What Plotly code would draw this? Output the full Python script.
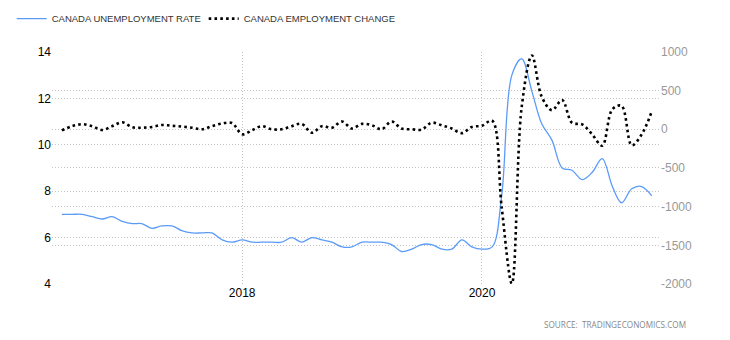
import pandas as pd
import plotly.graph_objects as go

dates = pd.date_range("2016-07-01", "2021-06-01", freq="MS")

unemployment_rate = [
    7.0, 7.0, 7.0, 6.9, 6.8, 6.9,                                # 2016 Jul-Dec
    6.7, 6.6, 6.6, 6.4, 6.5, 6.5, 6.3, 6.2, 6.2, 6.2, 5.9, 5.8,  # 2017
    5.9, 5.8, 5.8, 5.8, 5.8, 6.0, 5.8, 6.0, 5.9, 5.8, 5.6, 5.6,  # 2018
    5.8, 5.8, 5.8, 5.7, 5.4, 5.5, 5.7, 5.7, 5.5, 5.5, 5.9, 5.6,  # 2019
    5.5, 5.6, 7.8, 13.0, 13.7, 12.3, 10.9, 10.2, 9.0, 8.9, 8.5, 8.8,  # 2020
    9.4, 8.2, 7.5, 8.1, 8.2, 7.8,                                # 2021 Jan-Jun
]

employment_change = [
    -15, 40, 65, 40, -10, 40,                                     # 2016 Jul-Dec
    90, 25, 20, 30, 55, 45, 35, 20, 0, 40, 75, 80,                # 2017
    -65, -10, 40, 0, 0, 40, 70, -45, 40, 20, 100, 10,             # 2018
    70, 50, 0, 100, 10, 0, -5, 85, 50, 10, -50, 30,               # 2019
    45, 110, -1010, -1994, 290, 953, 419, 246, 378, 84, 62, -63,  # 2020
    -213, 259, 303, -207, -68, 231,                               # 2021 Jan-Jun
]

left_ticks = [4, 6, 8, 10, 12, 14]
right_ticks = [-2000, -1500, -1000, -500, 0, 500, 1000]
right_tick_labels = [str(v) for v in right_ticks]

fig = go.Figure()
fig.add_trace(go.Scatter(
    x=dates, y=unemployment_rate, name="CANADA UNEMPLOYMENT RATE",
    mode="lines", line=dict(color="#5b9bf8", width=1.3, shape="spline", smoothing=1),
    yaxis="y",
))
fig.add_trace(go.Scatter(
    x=dates, y=employment_change, name="CANADA EMPLOYMENT CHANGE",
    mode="lines", line=dict(color="#000000", width=2.6, dash="2.6px,3.2px", shape="spline", smoothing=1),
    yaxis="y2",
))

grid = dict(showgrid=True, gridcolor="#c4c4c4", griddash="1px,2px", gridwidth=1, zeroline=False)

fig.update_layout(
    width=730, height=340,
    margin=dict(l=52, r=70, t=49, b=56),
    paper_bgcolor="white", plot_bgcolor="white",
    font=dict(family="Liberation Sans, Arial, sans-serif", color="#000"),
    showlegend=True,
    legend=dict(orientation="h", xref="container", yref="container",
                x=0.016, y=0.988, xanchor="left", yanchor="top",
                font=dict(size=9.5, color="#333"),
                entrywidth=147, entrywidthmode="pixels",
                itemwidth=30, tracegroupgap=0, bgcolor="rgba(0,0,0,0)"),
    xaxis=dict(range=["2016-06-01", "2021-06-26"], dtick="M24", tick0="2018-01-01",
               tickformat="%Y", ticks="", showline=False, tickfont=dict(size=12, color="#000"),
               **grid),
    yaxis=dict(range=[4, 14], tickvals=left_ticks, ticks="", showline=False,
               tickfont=dict(size=12, color="#000"), **grid),
    yaxis2=dict(range=[-2000, 1000], tickvals=right_ticks, ticktext=right_tick_labels,
                overlaying="y", side="right", ticks="", showline=False,
                tickfont=dict(size=12, color="#999"), **grid),
    annotations=[dict(text="SOURCE:&nbsp;&nbsp;TRADINGECONOMICS.COM", xref="paper", yref="paper",
                      x=1.046, y=-0.174, xanchor="right", yanchor="middle", showarrow=False,
                      font=dict(size=8.2, color="#888", family="Open Sans, sans-serif"))],
)

fig.write_html("out.html")
